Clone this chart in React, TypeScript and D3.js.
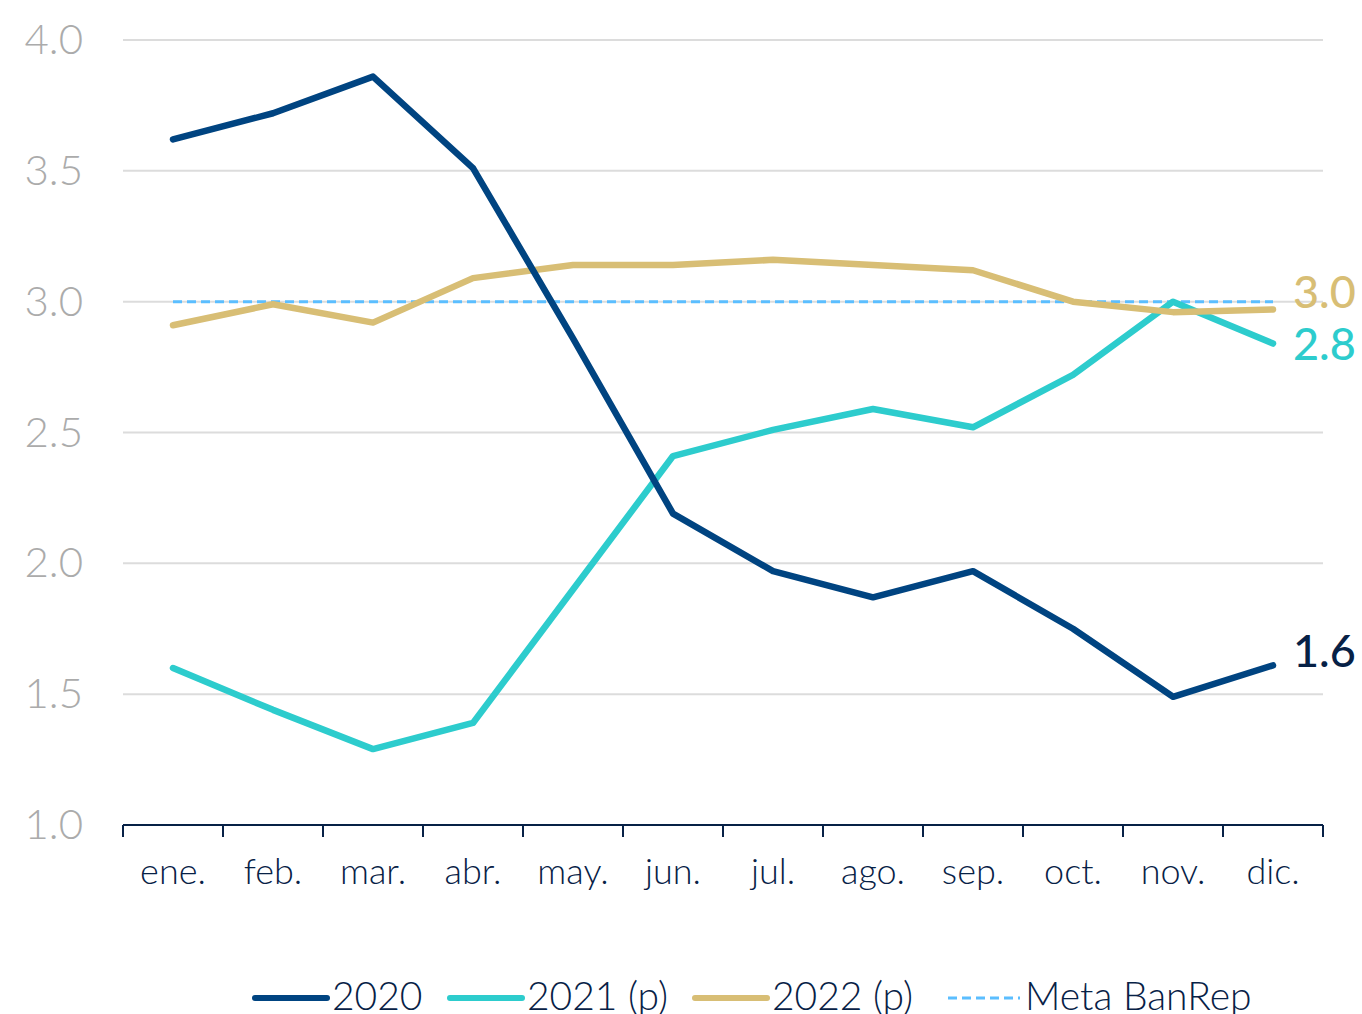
import { useEffect, useRef } from 'react'
import * as d3 from 'd3'

const months = ['ene.', 'feb.', 'mar.', 'abr.', 'may.', 'jun.', 'jul.', 'ago.', 'sep.', 'oct.', 'nov.', 'dic.']
const serie2020 = [3.62, 3.72, 3.86, 3.51, 2.86, 2.19, 1.97, 1.87, 1.97, 1.75, 1.49, 1.61]
const serie2021 = [1.6, 1.44, 1.29, 1.39, 1.9, 2.41, 2.51, 2.59, 2.52, 2.72, 3.0, 2.84]
const serie2022 = [2.91, 2.99, 2.92, 3.09, 3.14, 3.14, 3.16, 3.14, 3.12, 3.0, 2.96, 2.97]
const metaBanRep = 3.0
const yTicks = [1.0, 1.5, 2.0, 2.5, 3.0, 3.5, 4.0]

const series = [
  { name: '2020', values: serie2020, color: '#004481', label: '1.6', labelColor: '#072146' },
  { name: '2021 (p)', values: serie2021, color: '#2dcccd', label: '2.8', labelColor: '#2dcccd' },
  { name: '2022 (p)', values: serie2022, color: '#d8be75', label: '3.0', labelColor: '#d8be75' }
]

export default function App() {
  const svgRef = useRef<SVGSVGElement>(null)
  const width = 1362
  const height = 1014

  useEffect(() => {
    if (!svgRef.current) return
    const svg = d3.select(svgRef.current)
    svg.selectAll('*').remove()

    const left = 123
    const right = 1323
    const top = 40
    const bottom = 825

    const x = d3.scaleBand().domain(months).range([left, right])
    const y = d3.scaleLinear().domain([1, 4]).range([bottom, top])
    const cx = (i: number) => (x(months[i]) || 0) + x.bandwidth() / 2

    // rejilla
    svg.append('g')
      .selectAll('line')
      .data(yTicks.slice(1))
      .enter()
      .append('line')
      .attr('x1', left)
      .attr('x2', right)
      .attr('y1', d => y(d))
      .attr('y2', d => y(d))
      .attr('stroke', '#dcdcdc')
      .attr('stroke-width', 2)

    // etiquetas eje Y
    svg.append('g')
      .selectAll('text')
      .data(yTicks)
      .enter()
      .append('text')
      .attr('x', 83)
      .attr('y', d => y(d) + 14)
      .attr('text-anchor', 'end')
      .style('font-family', 'Lato, sans-serif')
      .style('font-weight', 300)
      .style('font-size', '42px')
      .style('fill', '#ababab')
      .text(d => d.toFixed(1))

    // eje X
    const axis = svg.append('g')
    axis.append('line')
      .attr('x1', left)
      .attr('x2', right)
      .attr('y1', bottom)
      .attr('y2', bottom)
      .attr('stroke', '#072146')
      .attr('stroke-width', 2)
    const edges = months.map(m => x(m) || 0).concat([right])
    axis.selectAll('.tick')
      .data(edges)
      .enter()
      .append('line')
      .attr('x1', d => d)
      .attr('x2', d => d)
      .attr('y1', bottom)
      .attr('y2', bottom + 12)
      .attr('stroke', '#072146')
      .attr('stroke-width', 2)
    axis.selectAll('.lbl')
      .data(months)
      .enter()
      .append('text')
      .attr('x', (_, i) => cx(i))
      .attr('y', bottom + 59)
      .attr('text-anchor', 'middle')
      .style('font-family', 'Lato, sans-serif')
      .style('font-weight', 300)
      .style('font-size', '36px')
      .style('fill', '#072146')
      .text(d => d)

    // meta
    svg.append('line')
      .attr('x1', cx(0))
      .attr('x2', cx(11))
      .attr('y1', y(metaBanRep))
      .attr('y2', y(metaBanRep))
      .attr('stroke', '#5bbeff')
      .attr('stroke-width', 3)
      .attr('stroke-dasharray', '9 5')

    const line = d3.line<number>()
      .x((_, i) => cx(i))
      .y(d => y(d))

    // 2021 y 2022 debajo de 2020
    const order = [series[1], series[2], series[0]]
    order.forEach(s => {
      svg.append('path')
        .datum(s.values)
        .attr('d', line)
        .attr('fill', 'none')
        .attr('stroke', s.color)
        .attr('stroke-width', 6.5)
        .attr('stroke-linecap', 'round')
        .attr('stroke-linejoin', 'round')
    })

    // etiquetas finales
    const endOffsets: Record<string, number> = { '2020': 2, '2021 (p)': 16, '2022 (p)': -2 }
    series.forEach(s => {
      const v = s.values[11]
      svg.append('text')
        .attr('x', 1293)
        .attr('y', y(v) + endOffsets[s.name])
        .style('font-family', 'Lato, sans-serif')
        .style('font-weight', 500)
        .style('font-size', '45px')
        .style('fill', s.labelColor)
        .text(s.label)
    })

    // leyenda
    const legend = [
      { name: '2020', color: '#004481', dash: false, x0: 255 },
      { name: '2021 (p)', color: '#2dcccd', dash: false, x0: 450 },
      { name: '2022 (p)', color: '#d8be75', dash: false, x0: 695 },
      { name: 'Meta BanRep', color: '#5bbeff', dash: true, x0: 948 }
    ]
    legend.forEach(l => {
      svg.append('line')
        .attr('x1', l.x0)
        .attr('x2', l.x0 + 72)
        .attr('y1', 998)
        .attr('y2', 998)
        .attr('stroke', l.color)
        .attr('stroke-width', l.dash ? 3 : 6)
        .attr('stroke-linecap', l.dash ? 'butt' : 'round')
        .attr('stroke-dasharray', l.dash ? '9 5' : null)
      svg.append('text')
        .attr('x', l.x0 + 77)
        .attr('y', 1010)
        .style('font-family', 'Lato, sans-serif')
        .style('font-weight', 300)
        .style('font-size', '39px')
        .style('fill', '#072146')
        .text(l.name)
    })
  }, [])

  return (
    <svg
      ref={svgRef}
      width={width}
      height={height}
      style={{ position: 'absolute', left: 0, top: 0, background: '#fff' }}
    />
  )
}
